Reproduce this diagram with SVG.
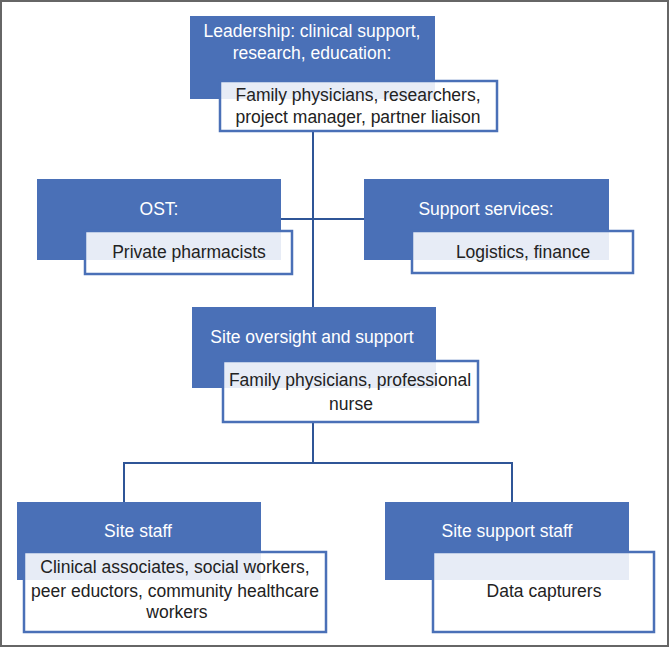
<svg xmlns="http://www.w3.org/2000/svg" width="670" height="647" viewBox="0 0 670 647">
<style>
.frame{fill:#ffffff;stroke:#666666;stroke-width:2}
.head{fill:#4a70b7}
.sub{fill:#ffffff;fill-opacity:0.87;stroke:#4a70b7;stroke-width:2.5}
.conn{fill:none;stroke:#2f5597;stroke-width:2}
text{font-family:"Liberation Sans",Arial,sans-serif;font-size:17.5px;text-anchor:middle}
.ht{fill:#ffffff}
.st{fill:#222222}
</style>
<rect class="frame" x="1" y="1" width="667" height="645"/>
<g id="connectors">
<line class="conn" x1="313" y1="131" x2="313" y2="307"/>
<line class="conn" x1="281" y1="219" x2="364" y2="219"/>
<line class="conn" x1="313" y1="422" x2="313" y2="463"/>
<polyline class="conn" points="124,502 124,463 512,463 512,502"/>
</g>
<g id="leadership">
<rect class="head" x="190" y="16" width="245" height="83"/>
<text class="ht" x="312" y="37">Leadership: clinical support,</text>
<text class="ht" x="312" y="59">research, education:</text>
<rect class="sub" x="220" y="81" width="277" height="50"/>
<text class="st" x="358" y="101">Family physicians, researchers,</text>
<text class="st" x="358" y="123">project manager, partner liaison</text>
</g>
<g id="ost">
<rect class="head" x="37" y="179" width="244" height="81"/>
<text class="ht" x="159" y="215">OST:</text>
<rect class="sub" x="85" y="231" width="207" height="43"/>
<text class="st" x="189" y="258">Private pharmacists</text>
</g>
<g id="support">
<rect class="head" x="364" y="179" width="245" height="81"/>
<text class="ht" x="486" y="215">Support services:</text>
<rect class="sub" x="412" y="231" width="221" height="42"/>
<text class="st" x="523" y="258">Logistics, finance</text>
</g>
<g id="oversight">
<rect class="head" x="192" y="307" width="244" height="81"/>
<text class="ht" x="312" y="343">Site oversight and support</text>
<rect class="sub" x="223" y="361" width="255" height="61"/>
<text class="st" x="350" y="386">Family physicians, professional</text>
<text class="st" x="351" y="410">nurse</text>
</g>
<g id="sitestaff">
<rect class="head" x="17" y="502" width="244" height="78"/>
<text class="ht" x="138" y="537">Site staff</text>
<rect class="sub" x="24" y="552" width="302" height="80"/>
<text class="st" x="175" y="573">Clinical associates, social workers,</text>
<text class="st" x="175" y="597">peer eductors, community healthcare</text>
<text class="st" x="177" y="618">workers</text>
</g>
<g id="sitesupport">
<rect class="head" x="385" y="502" width="244" height="78"/>
<text class="ht" x="507" y="537">Site support staff</text>
<rect class="sub" x="433" y="552" width="221" height="80"/>
<text class="st" x="544" y="597">Data capturers</text>
</g>
</svg>
